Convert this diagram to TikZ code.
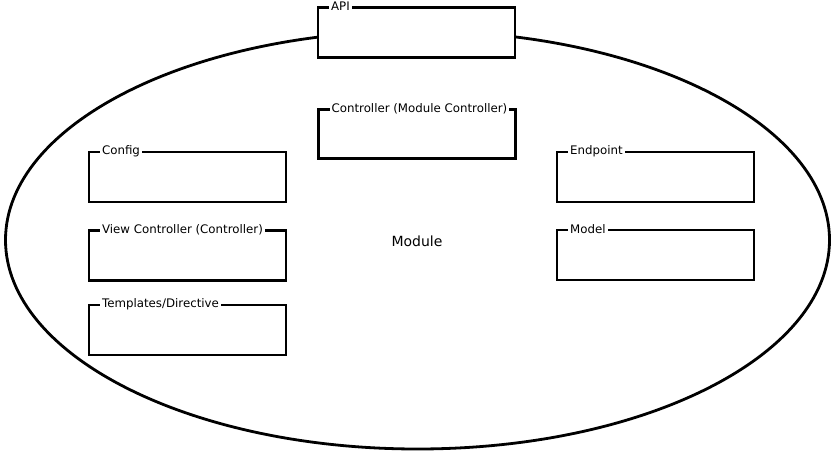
\documentclass[tikz,border=0pt]{standalone}
\usepackage{fontspec}
\setmainfont{DejaVu Sans}
\usetikzlibrary{positioning}
\tikzset{
	part/.style={draw, fill=white, line width=2.2pt, minimum width=197pt, minimum height=50pt, inner sep=0pt},
	tag/.style={fill=white, anchor=west, inner xsep=2pt, inner ysep=0.5pt, font=\fontsize{11.8}{13}\selectfont}
}

\begin{document}
\begin{tikzpicture}[x=1pt, y=-1pt]
	%%%%% START %%%%%
	\useasboundingbox (0, 0) rectangle (835, 453);
	
	\draw[line width=2.8pt] (417.5, 240) ellipse (412 and 209);
	\node[font=\fontsize{14}{16}\selectfont] (module) at (417, 241) {Module};
	
	\node[part] (api) at (416.5, 32.5) {};
	\node[tag] (apitag) at ([xshift=12pt]api.north west) {API};
	
	\node[part, minimum height=49pt] (ctrl) at (417, 134) {};
	\node[tag] (ctrltag) at ([xshift=12pt]ctrl.north west) {Controller (Module Controller)};
	
	\node[part] (config) at (187.5, 177) {};
	\node[tag] (configtag) at ([xshift=12pt]config.north west) {Config};
	
	\node[part] (view) at (187.5, 255.5) {};
	\node[tag] (viewtag) at ([xshift=12pt]view.north west) {View Controller (Controller)};
	
	\node[part] (tmpl) at (187.5, 330) {};
	\node[tag] (tmpltag) at ([xshift=12pt]tmpl.north west) {Templates/Directive};
	
	\node[part] (endpoint) at (655.5, 177) {};
	\node[tag] (endpointtag) at ([xshift=12pt]endpoint.north west) {Endpoint};
	
	\node[part] (model) at (655.5, 255) {};
	\node[tag] (modeltag) at ([xshift=12pt]model.north west) {Model};
	
	%%%%% END %%%%%
\end{tikzpicture}
\end{document}
